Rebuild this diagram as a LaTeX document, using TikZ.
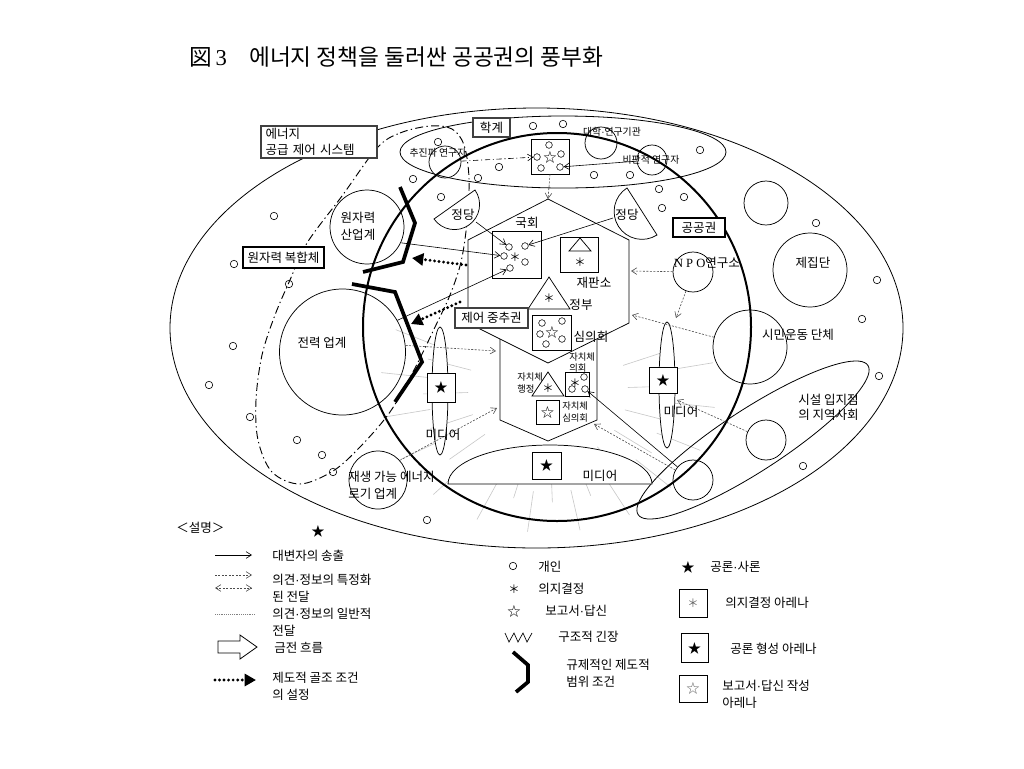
\documentclass[tikz,border=0pt]{standalone}
\usepackage{fontspec}
\setmainfont{Noto Sans CJK KR}
\newfontfamily\seriffont{Liberation Serif}
\newfontfamily\latinsans{Liberation Sans}
\newcommand{\kdot}{{\latinsans ·}}
\usetikzlibrary{arrows.meta}
\begin{document}
\begin{tikzpicture}[x=0.75pt,y=-0.75pt,
  lbl/.style={font=\fontsize{9.4}{12.8}\selectfont, inner sep=0pt, align=center},
  sml/.style={font=\fontsize{7.4}{9}\selectfont, inner sep=0pt, align=center},
  xsml/.style={font=\fontsize{7}{8.3}\selectfont, inner sep=0pt, align=left},
  indiv/.style={circle, draw, minimum size=5.6pt, inner sep=0pt, line width=0.45pt},
  dotc/.style={circle, draw, minimum size=5pt, inner sep=0pt, line width=0.4pt},
  grp/.style={circle, draw, inner sep=0pt, line width=0.55pt},
  tagbox/.style={draw=black!75, line width=0.9pt, fill=white, inner sep=0pt, font=\fontsize{9.4}{12}\selectfont},
  arena/.style={draw, fill=white, line width=0.55pt, inner sep=0pt},
  glyph/.style={inner sep=0pt, font=\fontsize{10}{10}\selectfont},
  ast/.style={inner sep=0pt, font=\fontsize{8.5}{8.5}\selectfont},
  arr/.style={line width=0.45pt, -{Straight Barb[length=4pt,width=5pt]}},
  info/.style={line width=0.45pt, draw=black!70, dash pattern=on 1.5pt off 1.1pt, -{Straight Barb[length=4pt,width=5pt]}},
  gen/.style={line width=0.45pt, draw=black!50, dash pattern=on 0.7pt off 0.7pt},
  ddot/.style={line width=2.4pt, dash pattern=on 0pt off 3.4pt, line cap=round, -{Triangle[length=8.5pt,width=9pt]}},
  brk/.style={line width=2.8pt, line join=miter},
  ray/.style={draw=black!22, line width=0.45pt},
  chainline/.style={line width=0.7pt, dash pattern=on 6pt off 2.5pt on 1pt off 2.5pt},
]
\useasboundingbox (0,0) rectangle (1024,768);
\fill[white] (0,0) rectangle (1024,768);

% title
\node[anchor=west, inner sep=0pt, font=\fontsize{17}{20}\selectfont] (fig) at (189,57) {図\,{\seriffont 3}};
\node[anchor=west, inner sep=0pt, font=\fontsize{17}{20}\selectfont] (title) at (249,57) {에너지 정책을 둘러싼 공공권의 풍부화};

% gray rays
\foreach \a in {-20,-2,...,200}
  \draw[ray] ({548+80*cos(\a)},{390+80*0.9*sin(\a)}) -- ({548+125*cos(\a)},{390+125*0.9*sin(\a)});
\foreach \a in {-11,7,...,209}
  \draw[ray] ({548+120*cos(\a)},{390+120*0.85*sin(\a)}) -- ({548+168*cos(\a)},{390+168*0.85*sin(\a)});

% big shapes
\draw[line width=0.6pt] (536.5,328) ellipse [x radius=366.5, y radius=220];
\draw[chainline] plot[smooth cycle, tension=0.55] coordinates {(377,148) (400,133) (430,126) (452,129) (464,145) (469,178) (467,222) (461,262) (450,295) (436,325) (414,370) (390,412) (360,447) (333,471) (300,484) (272,472) (258,440) (256,400) (262,355) (275,315) (290,280) (307,243) (342,196)};
\draw[line width=1.5pt] (557,327) circle [radius=194];
\draw[line width=0.6pt] (563,152) ellipse [x radius=163, y radius=36];
\draw[line width=0.6pt] plot[domain=0:356, samples=90, smooth cycle, variable=\t] ({753+137*cos(\t)*cos(33)+31*sin(\t)*sin(33)}, {440-137*cos(\t)*sin(33)+31*sin(\t)*cos(33)});

% group circles
\node[grp, minimum size=55.5pt] (wonja) at (367,227) {};
\node[grp, minimum size=94.5pt] (jeon) at (342.5,352) {};
\node[grp, minimum size=43.5pt] (jaes) at (378,480) {};
\node[grp, minimum size=24pt] (chujin) at (445,162) {};
\node[grp, minimum size=24pt] (daehak) at (601,143) {};
\node[grp, minimum size=22.5pt] (bipan) at (652,160) {};
\node[grp, minimum size=30pt] (npo) at (693,272) {};
\node[grp, minimum size=55.5pt] (jejip) at (810,270) {};
\node[grp, minimum size=55.5pt] (simin) at (750,347) {};
\node[grp, minimum size=33pt] (ctop) at (766,203) {};
\node[grp, minimum size=30pt] (c3) at (766,440) {};
\node[grp, minimum size=30pt] (c4) at (693,480) {};

% individuals
\foreach \p [count=\i] in {(274,216),(234,264),(289,284),(233,346),(209,385),(250,417),(297,440),(322,455),(333,472),(427,520),(438,142),(413,179),(441,197),(478,178),(499,167),(533,126),(563,124),(594,175),(630,175),(659,189),(684,197),(662,208),(700,150),(816,223),(877,280),(862,319),(879,376),(803,466)}
  \node[indiv] (ind\i) at \p {};

% parties
\draw[fill=white, line width=0.55pt] (434,219) arc[start angle=144.7, delta angle=-180, radius=25.1] -- cycle;
\draw[fill=white, line width=0.55pt] (657,235) arc[start angle=57.5, delta angle=180, radius=27.9] -- cycle;

% hexagons
\draw[fill=white, line width=0.55pt] (548,300) -- (597,325) -- (597,420) -- (548,441) -- (500,420) -- (500,325) -- cycle;
\draw[fill=white, line width=0.55pt] (548,199) -- (629,240) -- (629,323) -- (548,363) -- (468,323) -- (468,240) -- cycle;

% parliament
\node[arena, minimum width=36.75pt, minimum height=35.25pt] (kukhoe) at (516.5,254.5) {};
\node[dotc] (k1) at (509,247) {};
\node[dotc] (k2) at (525,246) {};
\node[dotc] (k3) at (504,256) {};
\node[dotc] (k4) at (525,262) {};
\node[dotc] (k5) at (510,268) {};
\node[ast] (ka) at (515,257) {＊};
% court
\node[arena, minimum width=28.5pt, minimum height=26.25pt] (jaepan) at (579,254.5) {};
\draw[line width=0.55pt] (580,238) -- (591,251) -- (569,251) -- cycle;
\node[ast] (ja) at (580,262) {＊};
% government
\draw[fill=white, line width=0.55pt] (549,277) -- (570,309) -- (528,309) -- cycle;
\node[ast] (ga) at (549,298) {＊};
% council
\node[arena, minimum width=29.25pt, minimum height=26.25pt] (simui) at (551.5,332.5) {};
\node[dotc] (s1) at (542,323) {};
\node[dotc] (s2) at (562,321) {};
\node[dotc] (s3) at (540,334) {};
\node[dotc] (s4) at (562,339) {};
\node[dotc] (s5) at (546,344) {};
\node[glyph] (ss) at (552,332) {☆};
% local
\draw[fill=white, line width=0.55pt] (548,372) -- (564,396) -- (532,396) -- cycle;
\node[ast] (la) at (548,388) {＊};
\node[arena, minimum width=18pt, minimum height=18pt] (jcbox) at (577,384) {};
\node[ast] (jca) at (575,383) {＊};
\node[dotc] (jc1) at (584,377) {};
\node[dotc] (jc2) at (572,389) {};
\node[dotc] (jc3) at (585,389) {};
\node[arena, glyph, minimum width=17.25pt, minimum height=18pt] (jsbox) at (547.5,412) {☆};
% academia box
\node[arena, minimum width=28.5pt, minimum height=26.25pt] (acbox) at (550,156.5) {};
\node[dotc] (ac1) at (549,145) {};
\node[dotc] (ac2) at (537,157) {};
\node[dotc] (ac3) at (561,154) {};
\node[dotc] (ac4) at (541,168) {};
\node[dotc] (ac5) at (560,167) {};
\node[glyph] (acs) at (550,157) {☆};

% media
\draw[fill=white, line width=0.55pt] (440,391) ellipse [x radius=8, y radius=64];
\draw[fill=white, line width=0.55pt] (667,385) ellipse [x radius=8, y radius=63];
\draw[fill=white, line width=0.55pt] (448,484) arc[start angle=180, end angle=360, x radius=102, y radius=39] -- cycle;
\node[arena, glyph, minimum width=21pt, minimum height=21.75pt] (mL) at (441,387.5) {★};
\node[arena, glyph, minimum width=21pt, minimum height=19.5pt] (mR) at (663,380) {★};
\node[arena, glyph, minimum width=21.75pt, minimum height=20.25pt] (mB) at (546.5,465.5) {★};

% connectors
\coordinate (hexTop) at (548,199);
\draw[info] (acbox.south) -- (hexTop);
\draw[arr, dash pattern=on 4pt off 2pt on 0.8pt off 2pt] (chujin) -- (ac2);
\draw[arr] (bipan) -- (ac5);
\coordinate (jdLp) at (476,222);
\draw[arr] (jdLp) -- (k1);
\coordinate (jdRp) at (613,218);
\draw[arr] (jdRp) -- (k2);
\draw[arr] (wonja.-25) -- (k3);
\draw[arr] (jeon.30) -- (k5);
\coordinate (hexR1) at (631,271);
\draw[info] (npo) -- (hexR1);
\coordinate (mRtop) at (676,318);
\draw[info] (npo) -- (mRtop);
\coordinate (hexR2) at (632,315);
\draw[info] (simin) -- (hexR2);
\coordinate (mRside) at (677,400);
\draw[info] (c3) -- (mRside);
\draw[arr] (c4) -- (jc3);
\coordinate (hexB) at (594,424);
\draw[info] (c4) -- (hexB);
\coordinate (hexL2) at (496,351);
\draw[info] (jeon.6) -- (hexL2);
\coordinate (hexL3) at (497,408);
\draw[info] (jaes.42) -- (hexL3);

% institutional brackets and framework arrows
\draw[brk] (400,187) -- (415,223) -- (403,262) -- (363,272);
\draw[brk] (352,284) -- (395,292) -- (422,362) -- (395,402);
\coordinate (dA1) at (466,265);
\coordinate (dA2) at (412,258);
\draw[ddot] (dA1) -- (dA2);
\coordinate (dB1) at (460,302);
\coordinate (dB2) at (411,324);
\draw[ddot] (dB1) -- (dB2);

% tag boxes
\node[tagbox, minimum width=27.75pt, minimum height=14.25pt] (hakgye) at (491.5,127.5) {학계};
\node[tagbox, draw=black, minimum width=39pt, minimum height=14.25pt] (gonggong) at (699,227.5) {공공권};
\node[tagbox, draw=black, minimum width=60.75pt, minimum height=15.75pt] (wbok) at (283.5,257.5) {원자력 복합체};
\node[tagbox, minimum width=54.75pt, minimum height=15pt] (jeoh) at (491.5,318) {제어 중추권};
\node[tagbox, minimum width=87pt, minimum height=24pt, align=left, text width=80pt] (esys) at (319,142) {에너지\\공급 제어 시스템};

% labels
\node[lbl] (t1) at (358,226) {원자력\\산업계};
\node[lbl] (t2) at (322,343) {전력 업계};
\node[lbl, anchor=west, align=left] (t3) at (348,485.5) {재생 가능 에너지\\로기 업계};
\node[sml] (t4) at (438,153) {추진파 연구자};
\node[sml] (t5) at (612,132) {대학\kdot 연구기관};
\node[sml] (t6) at (651,160) {비판적 연구자};
\node[lbl] (t7) at (463,215) {정당};
\node[lbl] (t8) at (627,215) {정당};
\node[lbl] (t9) at (527,223) {국회};
\node[lbl] (t10) at (594,283) {재판소};
\node[lbl] (t11) at (581,305) {정부};
\node[lbl] (t12) at (591,337) {심의회};
\node[xsml, anchor=west] (t13) at (517,383) {자치체\\행정};
\node[xsml, anchor=west] (t14) at (569,362.5) {자치체\\의회};
\node[xsml, anchor=west] (t15) at (562,412) {자치체\\심의회};
\node[lbl] (t16) at (443,435) {미디어};
\node[lbl] (t17) at (681,412) {미디어};
\node[lbl] (t18) at (600,476) {미디어};
\node[lbl] (t19) at (707,263) {{\seriffont N P O}연구소};
\node[lbl] (t20) at (813,263) {제집단};
\node[lbl] (t21) at (798,335) {시민운동 단체};
\node[lbl, anchor=west, align=left, font=\fontsize{9.4}{11.3}\selectfont] (t22) at (798,407) {시설 입지점\\의 지역사회};

% legend left
\node[lbl, anchor=west] (lg0) at (176,528) {＜설명＞};
\node[glyph] (lg0s) at (318,531) {★};
\coordinate (L1a) at (215,555);
\coordinate (L1b) at (252,555);
\draw[arr] (L1a) -- (L1b);
\node[lbl, anchor=west] (lg1) at (272,556) {대변자의 송출};
\coordinate (L2a) at (215,575);
\coordinate (L2b) at (252,575);
\draw[info] (L2a) -- (L2b);
\coordinate (L3a) at (215,588);
\coordinate (L3b) at (252,588);
\draw[info, {Straight Barb[length=4pt,width=5pt]}-{Straight Barb[length=4pt,width=5pt]}] (L3a) -- (L3b);
\node[lbl, anchor=west, align=left] (lg2) at (272,588.5) {의견\kdot 정보의 특정화\\된 전달};
\coordinate (L4a) at (215,614);
\coordinate (L4b) at (255,614);
\draw[gen] (L4a) -- (L4b);
\node[lbl, anchor=west, align=left] (lg3) at (272,622) {의견\kdot 정보의 일반적\\전달};
\draw[line width=0.6pt] (218,641) -- (240,641) -- (240,635) -- (257,647) -- (240,659) -- (240,653) -- (218,653) -- cycle;
\node[lbl, anchor=west] (lg4) at (274,648) {금전 흐름};
\coordinate (L5a) at (215,680);
\coordinate (L5b) at (256,680);
\draw[ddot] (L5a) -- (L5b);
\node[lbl, anchor=west, align=left] (lg5) at (272,686) {제도적 골조 조건\\의 설정};

% legend right
\node[indiv] (lgi) at (513,566) {};
\node[lbl, anchor=west] (lg6) at (538,567) {개인};
\node[ast] (lga) at (514,589) {＊};
\node[lbl, anchor=west] (lg7) at (538,589) {의지결정};
\node[glyph] (lgst) at (514,611) {☆};
\node[lbl, anchor=west] (lg8) at (545,611) {보고서\kdot 답신};
\draw[line width=0.5pt] (505,633) -- (509,642) -- (514,633) -- (518,642) -- (523,633) -- (527,642) -- (532,633);
\node[lbl, anchor=west] (lg9) at (558,637) {구조적 긴장};
\draw[brk] (513,652) -- (528,665) -- (528,682) -- (516,692);
\node[lbl, anchor=west, align=left] (lg10) at (566,673) {규제적인 제도적\\범위 조건};
\node[glyph] (lgbs) at (688,567) {★};
\node[lbl, anchor=west] (lg11) at (710,567) {공론\kdot 사론};
\node[arena, ast, minimum width=21pt, minimum height=21pt, text=black!60] (lgb1) at (693,603) {＊};
\node[lbl, anchor=west] (lg12) at (725,603) {의지결정 아레나};
\node[arena, glyph, minimum width=20.25pt, minimum height=21.75pt] (lgb2) at (694.5,648) {★};
\node[lbl, anchor=west] (lg13) at (730,649) {공론 형성 아레나};
\node[arena, glyph, minimum width=21pt, minimum height=20.25pt, text=black!60] (lgb3) at (693,688.5) {☆};
\node[lbl, anchor=west, align=left] (lg14) at (722,694) {보고서\kdot 답신 작성\\아레나};
\end{tikzpicture}
\end{document}
